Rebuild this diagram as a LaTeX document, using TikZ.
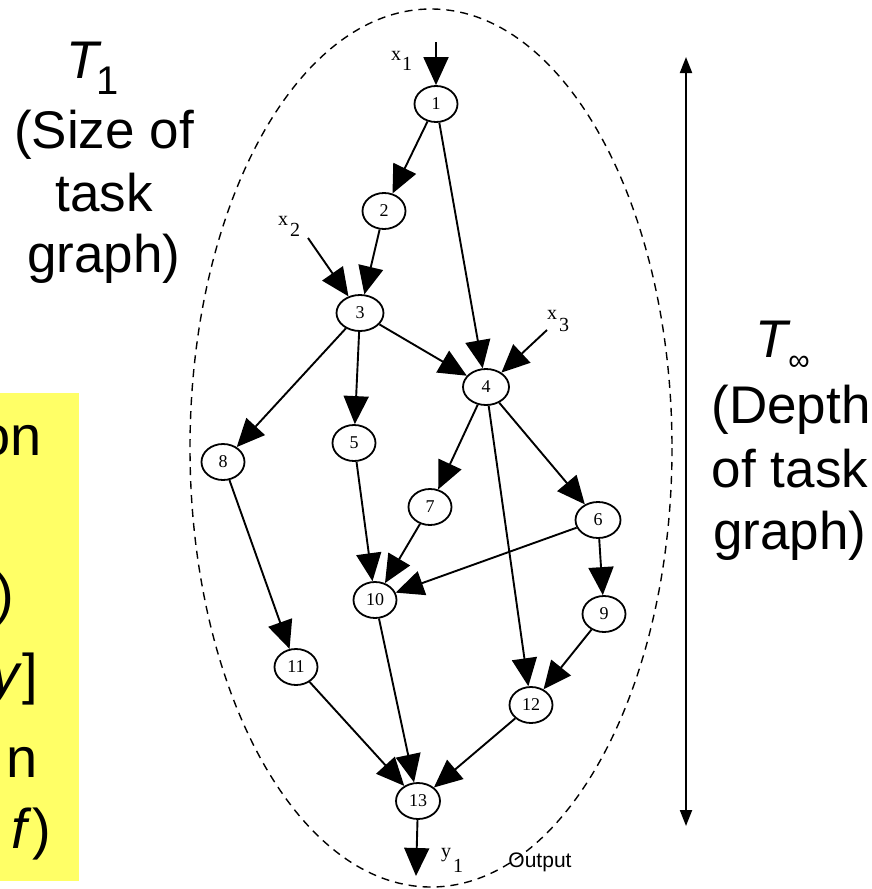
\documentclass[tikz,border=0pt]{standalone}
\usepackage{fontspec}
\setmainfont{Liberation Serif}
\newfontfamily\sansf{Liberation Sans}
\usetikzlibrary{shapes.geometric,arrows.meta}
\definecolor{noteyellow}{HTML}{FFFF66}
\begin{document}
\begin{tikzpicture}[x=1pt,y=-1pt,
  tnode/.style={ellipse,draw,line width=1.8pt,minimum width=43pt,minimum height=36pt,
    inner sep=0pt,font=\fontsize{18}{18}\selectfont},
  dep/.style={line width=1.9pt,-{Triangle[length=28pt,width=25pt]}},
  iolabel/.style={inner sep=0pt,font=\fontsize{20}{20}\selectfont},
  bigtext/.style={inner sep=0pt,anchor=base,font=\sansf\fontsize{53}{62}\selectfont},
  boxtext/.style={inner sep=0pt,anchor=base east,font=\sansf\fontsize{56}{66}\selectfont}]
\useasboundingbox (0,0) rectangle (871,889);

% note box on the left, only its right edge is in view
\fill[noteyellow] (0,393) rectangle (79,881);
\node[boxtext] (b1) at (42,455) {on};
\node[boxtext] (b3) at (14,613) {)};
\node[boxtext] (b4) at (38,693) {\textit{y}]};
\node[boxtext] (b5) at (38,777) {n};
\node[boxtext] (b6) at (51,848) {\textit{f})};

% work label
\node[bigtext] (w1) at (84,78) {\textit{T}};
\node[bigtext,font=\sansf\fontsize{40}{40}\selectfont] (w1s) at (108,94) {1};
\node[bigtext] (w2) at (104,148) {(Size of};
\node[bigtext] (w3) at (104,211) {task};
\node[bigtext] (w4) at (104,272) {graph)};

% span label
\node[bigtext] (s1) at (773,357) {\textit{T}};
\node[bigtext,font=\sansf\fontsize{30}{30}\selectfont] (s1s) at (799,370) {∞};
\node[bigtext] (s2) at (791,423) {(Depth};
\node[bigtext] (s3) at (790,487) {of task};
\node[bigtext] (s4) at (790,549) {graph)};

% depth arrow
\coordinate (dtop) at (686,57);
\coordinate (dbot) at (686,826);
\draw[line width=2pt,{Triangle[length=16pt,width=12pt]}-{Triangle[length=16pt,width=12pt]}] (dtop) -- (dbot);

% enclosing dashed ellipse
\draw[line width=1.4pt,dash pattern=on 8pt off 6pt] (431,448) ellipse [x radius=241, y radius=439];

% tasks
\node[tnode] (n1) at (436,104) {1};
\node[tnode] (n2) at (384,211) {2};
\node[tnode,minimum width=47pt] (n3) at (360,313) {3};
\node[tnode,minimum width=46pt] (n4) at (486,387) {4};
\node[tnode] (n5) at (354,443) {5};
\node[tnode] (n8) at (223,462) {8};
\node[tnode] (n7) at (430,507) {7};
\node[tnode,minimum width=45pt] (n6) at (598,520) {6};
\node[tnode] (n10) at (375,600) {10};
\node[tnode] (n9) at (604,614) {9};
\node[tnode] (n11) at (296,667) {11};
\node[tnode] (n12) at (531,705) {12};
\node[tnode,minimum width=44pt] (n13) at (418,801) {13};

% inputs and output
\coordinate (in1) at (436,42);
\coordinate (in2) at (308,238);
\coordinate (in3) at (547,330);
\coordinate (out1) at (416,876);
\node[iolabel] (lx1) at (396,56) {x};
\node[iolabel] (lx1s) at (407,64) {1};
\node[iolabel] (lx2) at (283,221) {x};
\node[iolabel] (lx2s) at (295,230) {2};
\node[iolabel] (lx3) at (552,315) {x};
\node[iolabel] (lx3s) at (564,325) {3};
\node[iolabel] (ly1) at (446,855) {y};
\node[iolabel] (ly1s) at (458,866) {1};
\node[inner sep=0pt,font=\sansf\fontsize{21}{21}\selectfont] (outl) at (540,862) {Output};

% dependencies
\draw[dep] (in1) -- (n1);
\draw[dep] (n1) -- (n2);
\draw[dep] (n1) -- (n4);
\draw[dep] (n2) -- (n3);
\draw[dep] (in2) -- (n3);
\draw[dep] (n3) -- (n4);
\draw[dep] (n3) -- (n5);
\draw[dep] (n3) -- (n8);
\draw[dep] (in3) -- (n4);
\draw[dep] (n4) -- (n7);
\draw[dep] (n4) -- (n6);
\draw[dep] (n4) -- (n12);
\draw[dep] (n8) -- (n11);
\draw[dep] (n5) -- (n10);
\draw[dep] (n7) -- (n10);
\draw[dep] (n6) -- (n10);
\draw[dep] (n6) -- (n9);
\draw[dep] (n9) -- (n12);
\draw[dep] (n10) -- (n13);
\draw[dep] (n11) -- (n13);
\draw[dep] (n12) -- (n13);
\draw[dep] (n13) -- (out1);
\end{tikzpicture}
\end{document}
